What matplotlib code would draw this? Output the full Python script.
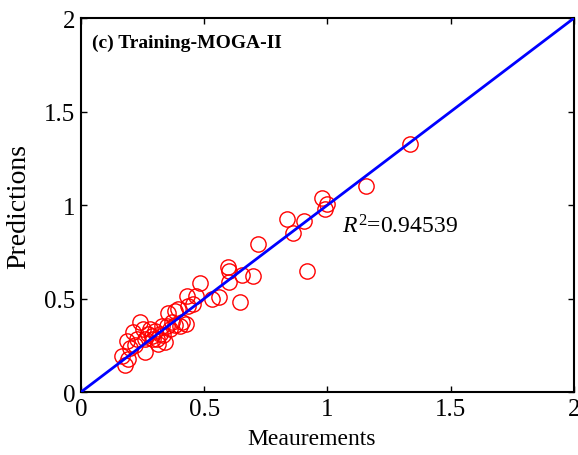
import matplotlib
matplotlib.use("Agg")
import matplotlib.pyplot as plt
import numpy as np

meas = [1.335, 1.156, 0.978, 0.998, 0.990, 0.905, 0.836, 0.860, 0.917, 0.718,
        0.596, 0.600, 0.600, 0.698, 0.653, 0.645, 0.483, 0.531, 0.560, 0.430,
        0.467, 0.394, 0.353, 0.239, 0.410, 0.426, 0.402, 0.329, 0.349, 0.272,
        0.288, 0.308, 0.312, 0.260, 0.227, 0.187, 0.211, 0.199, 0.260, 0.166,
        0.191, 0.178, 0.369, 0.341, 0.280, 0.300, 0.320, 0.361, 0.381, 0.252,
        0.292, 0.333, 0.219, 0.381, 0.434, 0.454]
pred = [1.326, 1.102, 1.037, 1.005, 0.979, 0.914, 0.925, 0.850, 0.647, 0.791,
        0.668, 0.647, 0.588, 0.620, 0.626, 0.481, 0.583, 0.497, 0.508, 0.513,
        0.513, 0.444, 0.422, 0.374, 0.374, 0.364, 0.353, 0.353, 0.353, 0.310,
        0.299, 0.283, 0.257, 0.283, 0.283, 0.273, 0.321, 0.235, 0.214, 0.193,
        0.176, 0.144, 0.374, 0.267, 0.337, 0.326, 0.310, 0.337, 0.358, 0.337,
        0.283, 0.305, 0.251, 0.433, 0.460, 0.470]
ticks = [0, 0.5, 1, 1.5, 2]
tick_labels = ["0", "0.5", "1", "1.5", "2"]
fit_line = [0, 2]
r2_text = "0.94539"

plt.rcParams['font.family'] = ['Liberation Serif', 'DejaVu Serif']
plt.rcParams['mathtext.fontset'] = 'custom'
plt.rcParams['mathtext.rm'] = 'Liberation Serif'
plt.rcParams['mathtext.it'] = 'Liberation Serif:italic'

fig = plt.figure(figsize=(5.78, 4.56), dpi=100)
ax = fig.add_axes([0.140, 0.138, 0.853, 0.820])

ax.plot(meas, pred, 'o', mfc='none', mec='red', ms=11, mew=1.0, zorder=2)
ax.plot(fit_line, fit_line, color='blue', lw=2, zorder=3)

ax.set_xlim(0, 2)
ax.set_ylim(0, 2)
ax.set_xticks(ticks)
ax.set_xticklabels(tick_labels)
ax.set_yticks(ticks)
ax.set_yticklabels(tick_labels)
ax.tick_params(direction='in', length=4, width=1, top=True, right=True,
               labelsize=18, pad=4)
for s in ax.spines.values():
    s.set_linewidth(1.5)

ax.set_xlabel("Meaurements", fontsize=17)
ax.xaxis.set_label_coords(0.467, -0.097)
ax.set_ylabel("Predictions", fontsize=20)
ax.yaxis.set_label_coords(-0.10, 0.5)

ax.text(0.023, 0.922, "(c) Training-MOGA-II", transform=ax.transAxes,
        fontsize=14, fontweight='bold', va='baseline', ha='left')
ax.text(1.059, 0.856, r"$R^2$=" + r2_text, fontsize=17, va='baseline', ha='left')

fig.savefig("out.png", dpi=100)
